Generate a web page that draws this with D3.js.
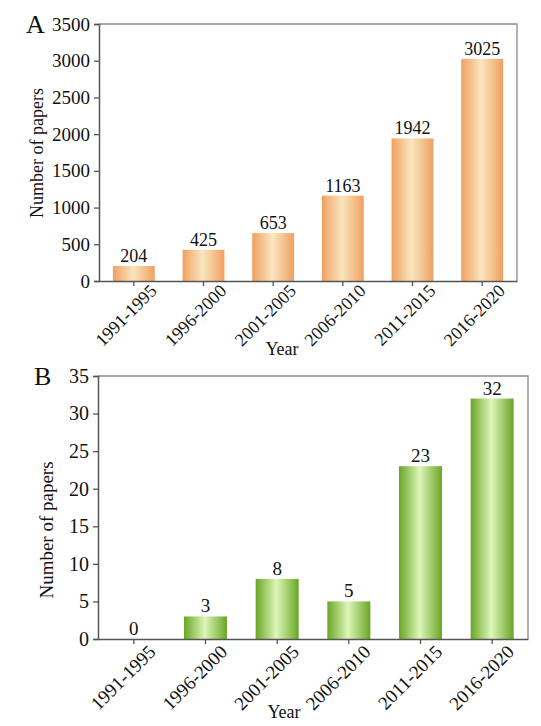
<!DOCTYPE html>
<html>
<head>
<meta charset="utf-8">
<script src="https://d3js.org/d3.v7.min.js"></script>
<style>
  body { margin: 0; background: #fff; }
  text { font-family: "Liberation Serif", "Times New Roman", serif; fill: #111; }
</style>
</head>
<body>
<svg width="541" height="726"></svg>
<script>
const periods = ["1991-1995", "1996-2000", "2001-2005", "2006-2010", "2011-2015", "2016-2020"];
const papersA = [204, 425, 653, 1163, 1942, 3025];
const papersB = [0, 3, 8, 5, 23, 32];
const ticksA = [0, 500, 1000, 1500, 2000, 2500, 3000, 3500];
const ticksB = [0, 5, 10, 15, 20, 25, 30, 35];

const svg = d3.select("svg");
const defs = svg.append("defs");

function gradient(id, edge, mid) {
  const g = defs.append("linearGradient").attr("id", id)
    .attr("x1", "0%").attr("x2", "100%").attr("y1", "0%").attr("y2", "0%");
  g.append("stop").attr("offset", "0%").attr("stop-color", edge);
  g.append("stop").attr("offset", "48%").attr("stop-color", mid);
  g.append("stop").attr("offset", "100%").attr("stop-color", edge);
}
gradient("gradA", "#F1A060", "#F9E6BF");
gradient("gradB", "#69A525", "#DDF6B8");

function panel(opt) {
  const { left, right, top, bottom, values, ticks, fill, letter, fs } = opt;
  const g = svg.append("g");

  const x = d3.scaleBand().domain(periods).range([left, right]).padding(0.4).paddingOuter(0.2);
  const y = d3.scaleLinear().domain([0, d3.max(ticks)]).range([bottom, top]);

  // frame top/right
  g.append("path")
    .attr("d", `M${left},${top}H${right}V${bottom}`)
    .attr("fill", "none").attr("stroke", "#8a8a8a").attr("stroke-width", 1.3);

  // bars
  g.selectAll(".bar").data(values).enter().append("rect")
    .attr("x", (d, i) => x(periods[i]))
    .attr("width", x.bandwidth())
    .attr("y", d => y(d))
    .attr("height", d => bottom - y(d))
    .attr("fill", fill);

  g.selectAll(".val").data(values).enter().append("text")
    .attr("x", (d, i) => x(periods[i]) + x.bandwidth() / 2)
    .attr("y", d => y(d) - 4)
    .attr("text-anchor", "middle")
    .attr("font-size", opt.valFs)
    .text(d => d);

  // y axis
  const ya = g.append("g").attr("transform", `translate(${left},0)`)
    .call(d3.axisLeft(y).tickValues(ticks).tickSize(5).tickPadding(4).tickFormat(d3.format("d")));
  ya.select(".domain").attr("stroke", "#555").attr("stroke-width", 1.5);
  ya.selectAll(".tick line").attr("stroke", "#555").attr("stroke-width", 1.3);
  ya.selectAll(".tick text").attr("font-size", fs).attr("fill", "#111");

  // x axis
  const xa = g.append("g").attr("transform", `translate(0,${bottom})`)
    .call(d3.axisBottom(x).tickSize(5).tickSizeOuter(0));
  xa.select(".domain").attr("stroke", "#555").attr("stroke-width", 1.5);
  xa.selectAll(".tick line").attr("stroke", "#555").attr("stroke-width", 1.3);
  xa.selectAll(".tick text")
    .attr("font-size", opt.labFs).attr("fill", "#111")
    .attr("text-anchor", "end")
    .attr("x", 0).attr("y", 0).attr("dy", 0)
    .attr("transform", `translate(${opt.labDx},${opt.labDy}) rotate(-45)`);

  g.append("text")
    .attr("x", opt.yearX).attr("y", opt.yearY)
    .attr("text-anchor", "middle").attr("font-size", 18)
    .text("Year");

  g.append("text")
    .attr("transform", `translate(${opt.titleX},${opt.titleY}) rotate(-90)`)
    .attr("text-anchor", "middle").attr("font-size", opt.titleFs)
    .text("Number of papers");

  g.append("text")
    .attr("x", opt.letterX).attr("y", opt.letterY)
    .attr("font-size", 26)
    .text(letter);
}

panel({
  left: 99, right: 517, top: 24, bottom: 281,
  values: papersA, ticks: ticksA, fill: "url(#gradA)", letter: "A", fs: 19,
  valFs: 18, labFs: 18, labDx: 24, labDy: 11,
  yearX: 282, yearY: 355, titleX: 43, titleY: 153, titleFs: 18,
  letterX: 26, letterY: 33
});

panel({
  left: 98, right: 528, top: 376, bottom: 639,
  values: papersB, ticks: ticksB, fill: "url(#gradB)", letter: "B", fs: 20,
  valFs: 19, labFs: 19, labDx: 23, labDy: 14,
  yearX: 284, yearY: 718, titleX: 53, titleY: 530, titleFs: 19,
  letterX: 34, letterY: 385
});
</script>
</body>
</html>
